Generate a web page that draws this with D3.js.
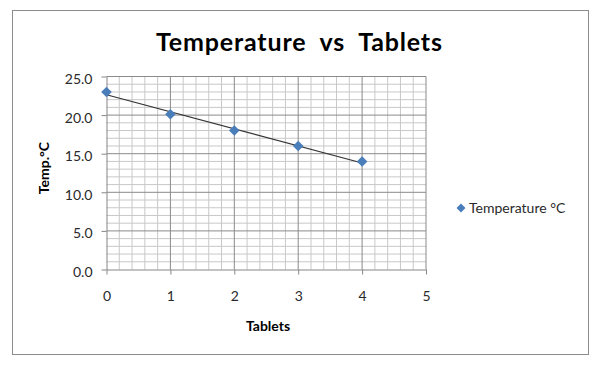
<!DOCTYPE html>
<html>
<head>
<meta charset="utf-8">
<script src="https://cdn.jsdelivr.net/npm/d3@7"></script>
<style>
  body { margin: 0; background: #fff; }
  text { font-family: Lato, "Open Sans", sans-serif; }
</style>
</head>
<body>
<div id="chart"></div>
<script>
// data
const tablets = [0, 1, 2, 3, 4];
const temps = [23.0, 20.1, 18.0, 16.0, 14.0];
const xTicks = [0, 1, 2, 3, 4, 5];
const yTicks = [0, 5, 10, 15, 20, 25];
const seriesName = "Temperature °C";

const width = 601, height = 371;
const plot = { left: 106.5, right: 426, top: 76.5, bottom: 269.5 };
const blue = "#4a7ebb";

const svg = d3.select("#chart").append("svg")
  .attr("width", width).attr("height", height);

// outer frame
svg.append("rect")
  .attr("x", 12.5).attr("y", 10.5)
  .attr("width", 576).attr("height", 344)
  .attr("fill", "#fff").attr("stroke", "#8c8c8c").attr("stroke-width", 1);

const x = d3.scaleLinear().domain([0, 5]).range([plot.left, plot.right]);
const y = d3.scaleLinear().domain([0, 25]).range([plot.bottom, plot.top]);

// minor grid
const grid = svg.append("g");
grid.selectAll(".vminor")
  .data(d3.range(0, 25).map(i => i * 0.2 + 0.2).filter(v => Math.abs(v - Math.round(v)) > 1e-6))
  .join("line")
  .attr("x1", d => x(d)).attr("x2", d => x(d))
  .attr("y1", plot.top).attr("y2", plot.bottom)
  .attr("stroke", "#c8c8c8").attr("stroke-width", 1);
grid.selectAll(".hminor")
  .data(d3.range(1, 25).filter(v => v % 5 !== 0))
  .join("line")
  .attr("x1", plot.left).attr("x2", plot.right)
  .attr("y1", d => y(d)).attr("y2", d => y(d))
  .attr("stroke", "#c8c8c8").attr("stroke-width", 1);

// major grid
grid.selectAll(".vmajor")
  .data(xTicks.slice(1))
  .join("line")
  .attr("x1", d => x(d)).attr("x2", d => x(d))
  .attr("y1", plot.top).attr("y2", plot.bottom)
  .attr("stroke", "#8a8a8a").attr("stroke-width", 1);
grid.selectAll(".hmajor")
  .data(yTicks.slice(1))
  .join("line")
  .attr("x1", plot.left).attr("x2", plot.right)
  .attr("y1", d => y(d)).attr("y2", d => y(d))
  .attr("stroke", "#8a8a8a").attr("stroke-width", 1);

// axes
const gx = svg.append("g")
  .attr("transform", `translate(0,${plot.bottom})`)
  .call(d3.axisBottom(x).tickValues(xTicks).tickFormat(d3.format("d")).tickSizeInner(5).tickSizeOuter(0).tickPadding(17));
const gy = svg.append("g")
  .attr("transform", `translate(${plot.left},0)`)
  .call(d3.axisLeft(y).tickValues(yTicks).tickFormat(d3.format(".1f")).tickSizeInner(5).tickSizeOuter(0).tickPadding(9));
[gx, gy].forEach(g => {
  g.select(".domain").attr("stroke", "#868686");
  g.selectAll(".tick line").attr("stroke", "#868686");
  g.selectAll(".tick text").attr("font-size", 14).attr("fill", "#2a2a2a")
    .style("font-family", "Lato, 'Open Sans', sans-serif");
});
gy.selectAll(".tick text").attr("dy", "0.5em");

// linear trendline from the data
const mx = d3.mean(tablets), my = d3.mean(temps);
const slope = d3.sum(tablets, (t, i) => (t - mx) * (temps[i] - my)) / d3.sum(tablets, t => (t - mx) ** 2);
const intercept = my - slope * mx;
const x0 = d3.min(tablets), x1 = d3.max(tablets);
svg.append("line")
  .attr("x1", x(x0)).attr("y1", y(intercept + slope * x0))
  .attr("x2", x(x1)).attr("y2", y(intercept + slope * x1))
  .attr("stroke", "#333").attr("stroke-width", 1.2);

// markers
const diamond = d3.symbol().type(d3.symbolSquare).size(56);
svg.append("g").selectAll("path")
  .data(tablets)
  .join("path")
  .attr("d", diamond)
  .attr("transform", (d, i) => `translate(${x(d)},${y(temps[i])}) rotate(45)`)
  .attr("fill", blue);

// title
svg.append("text")
  .attr("x", 299).attr("y", 51)
  .attr("text-anchor", "middle")
  .attr("font-size", 25).attr("font-weight", "bold").attr("fill", "#000")
  .attr("xml:space", "preserve")
  .attr("textLength", 286).attr("lengthAdjust", "spacing")
  .text("Temperature  vs  Tablets");

// axis titles
svg.append("text")
  .attr("x", 268).attr("y", 331)
  .attr("text-anchor", "middle")
  .attr("font-size", 14).attr("font-weight", "bold")
  .text("Tablets");
svg.append("text")
  .attr("transform", "translate(49,168) rotate(-90)")
  .attr("text-anchor", "middle")
  .attr("font-size", 14).attr("font-weight", "bold")
  .text("Temp.°C");

// legend
const lg = svg.append("g").attr("transform", "translate(461,208)");
lg.append("path").attr("d", d3.symbol().type(d3.symbolSquare).size(40)).attr("transform", "rotate(45)").attr("fill", blue);
lg.append("text").attr("x", 8).attr("y", 5).attr("font-size", 14).attr("fill", "#2a2a2a").text(seriesName);
</script>
</body>
</html>
